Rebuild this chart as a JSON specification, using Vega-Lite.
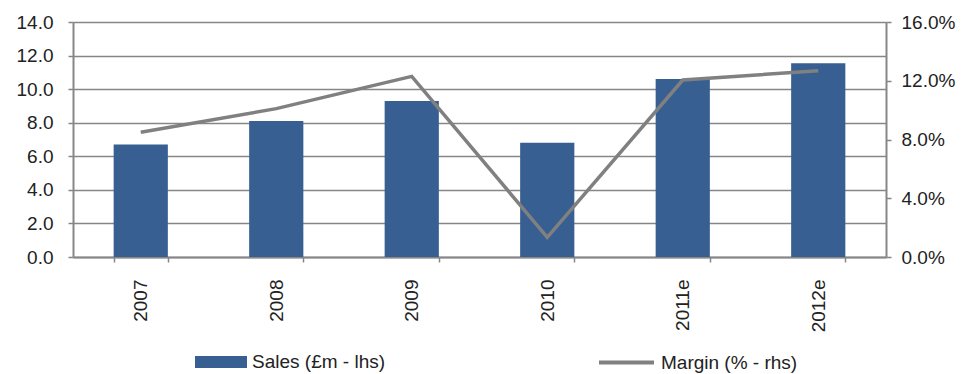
{
  "$schema": "https://vega.github.io/schema/vega-lite/v6.json",
  "width": 813,
  "height": 235,
  "autosize": "none",
  "padding": {"left": 73, "top": 22, "right": 86, "bottom": 117},
  "background": "white",
  "config": {
    "view": {"stroke": null},
    "font": "Liberation Sans",
    "axis": {
      "labelFont": "Liberation Sans",
      "labelFontSize": 19,
      "labelColor": "#222222",
      "domainColor": "#868686",
      "domainWidth": 2,
      "tickColor": "#868686",
      "tickWidth": 1.5,
      "tickSize": 5,
      "gridColor": "#868686",
      "gridWidth": 1.5,
      "title": null
    },
    "legend": {
      "labelFont": "Liberation Sans",
      "labelFontSize": 19,
      "labelColor": "#222222",
      "labelOffset": 5,
      "padding": 0
    }
  },
  "data": {
    "values": [
      {"year": "2007", "sales": 6.7, "margin": 0.085},
      {"year": "2008", "sales": 8.1, "margin": 0.101},
      {"year": "2009", "sales": 9.3, "margin": 0.123},
      {"year": "2010", "sales": 6.8, "margin": 0.0134},
      {"year": "2011e", "sales": 10.6, "margin": 0.1205},
      {"year": "2012e", "sales": 11.55, "margin": 0.1268}
    ]
  },
  "layer": [
    {
      "mark": {"type": "bar"},
      "encoding": {
        "x": {
          "field": "year",
          "type": "ordinal",
          "sort": null,
          "scale": {"paddingInner": 0.6, "paddingOuter": 0.3},
          "axis": {
            "labelAngle": -90,
            "labelPadding": 17,
            "tickBand": "extent",
            "grid": false
          }
        },
        "y": {
          "field": "sales",
          "type": "quantitative",
          "scale": {"domain": [0, 14], "nice": false},
          "axis": {
            "orient": "left",
            "values": [0, 2, 4, 6, 8, 10, 12, 14],
            "format": ".1f",
            "grid": true,
            "labelPadding": 15
          }
        },
        "fill": {
          "datum": "Sales (£m - lhs)",
          "scale": {"range": ["#375F91"]},
          "legend": {
            "title": null,
            "orient": "none",
            "legendX": 122,
            "legendY": 314,
            "symbolType": "M-1,-0.23H1V0.23H-1Z",
            "symbolSize": 2704,
            "symbolStrokeWidth": 0
          }
        }
      }
    },
    {
      "mark": {"type": "line", "strokeWidth": 3.5},
      "encoding": {
        "x": {"field": "year", "type": "ordinal", "sort": null},
        "y": {
          "field": "margin",
          "type": "quantitative",
          "scale": {"domain": [0, 0.16], "nice": false},
          "axis": {
            "orient": "right",
            "values": [0, 0.04, 0.08, 0.12, 0.16],
            "format": ".1%",
            "grid": false,
            "labelPadding": 10
          }
        },
        "stroke": {
          "datum": "Margin (% - rhs)",
          "scale": {"range": ["#808080"]},
          "legend": {
            "title": null,
            "orient": "none",
            "legendX": 524,
            "legendY": 311,
            "symbolType": "stroke",
            "symbolSize": 3025,
            "symbolStrokeWidth": 4
          }
        }
      }
    }
  ],
  "resolve": {"scale": {"y": "independent"}}
}
